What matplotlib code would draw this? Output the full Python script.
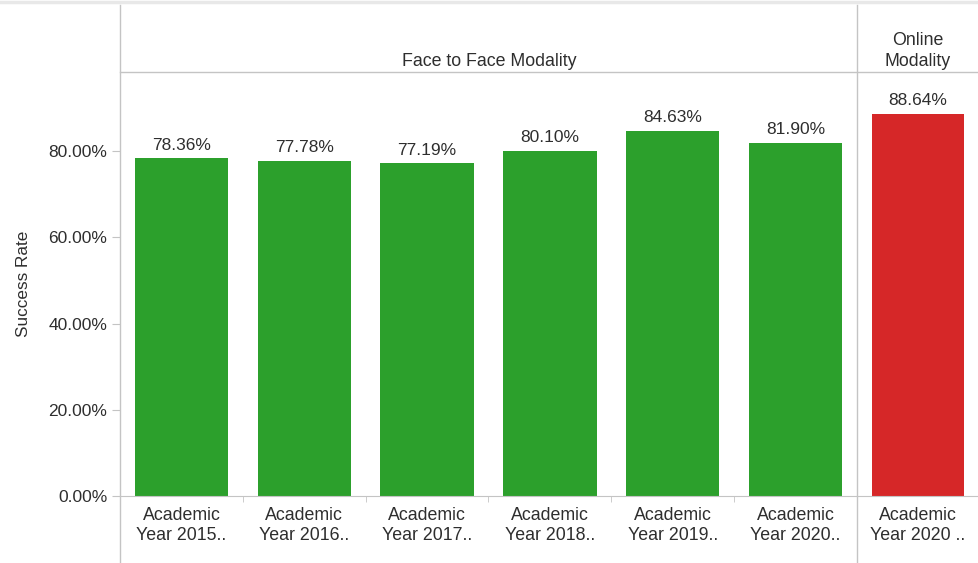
import matplotlib
matplotlib.use("Agg")
import matplotlib.pyplot as plt
from matplotlib.lines import Line2D

W, H = 979, 563

f2f_labels = ["Academic\nYear 2015..", "Academic\nYear 2016..", "Academic\nYear 2017..",
              "Academic\nYear 2018..", "Academic\nYear 2019..", "Academic\nYear 2020.."]
f2f_values = [78.36, 77.78, 77.19, 80.10, 84.63, 81.90]
online_labels = ["Academic\nYear 2020 .."]
online_values = [88.64]
y_ticks = [0, 20, 40, 60, 80]

GREEN = "#2ca02c"
RED = "#d62728"
LINE = "#c4c4c4"
TEXT = "#2e2e2e"

plt.rcParams['font.family'] = ['Liberation Sans', 'DejaVu Sans']
plt.rcParams['font.size'] = 12.5

fig = plt.figure(figsize=(W / 100, H / 100), dpi=100)


def rect(x0, y0, x1, y1):
    # pixel box (top-left origin) -> figure fraction
    return [x0 / W, 1 - y1 / H, (x1 - x0) / W, (y1 - y0) / H]


def fline(x0, y0, x1, y1, color=LINE, lw=1.0):
    fig.add_artist(Line2D([x0 / W, x1 / W], [1 - y0 / H, 1 - y1 / H],
                          color=color, lw=lw, transform=fig.transFigure))


TOP, BASE = 72, 496
YMAX = (BASE - TOP) / 4.3125

ax1 = fig.add_axes(rect(120, TOP, 857, BASE))
ax2 = fig.add_axes(rect(857, TOP, 979, BASE))

for ax, labels, values, color in [(ax1, f2f_labels, f2f_values, GREEN),
                                  (ax2, online_labels, online_values, RED)]:
    x = list(range(len(values)))
    bars = ax.bar(x, values, width=0.76, color=color)
    for b, v in zip(bars, values):
        ax.annotate(f"{v:.2f}%", (b.get_x() + b.get_width() / 2, v),
                    xytext=(0, 4), textcoords="offset points",
                    ha="center", va="bottom", color=TEXT, fontsize=12.5)
    ax.set_xlim(-0.5, len(values) - 0.5)
    ax.set_ylim(0, YMAX)
    for s in ["top", "right", "left"]:
        ax.spines[s].set_visible(False)
    ax.spines["bottom"].set_color(LINE)
    ax.set_xticks(x)
    ax.set_xticklabels(labels, color=TEXT, fontsize=12.8, linespacing=1.2)
    ax.tick_params(axis="x", which="major", length=0, pad=8)
    ax.set_xticks([i + 0.5 for i in x[:-1]], minor=True)
    ax.tick_params(axis="x", which="minor", length=4, color=LINE)
    ax.set_yticks([])

ax1.set_yticks(y_ticks)
ax1.set_yticklabels([f"{v:.2f}%" for v in y_ticks], color=TEXT)
ax1.tick_params(axis="y", length=6, color=LINE, pad=3)
ax1.set_ylabel("Success Rate", color=TEXT, fontsize=12.3, labelpad=13)

# frame lines
fline(0, 1.5, 979, 1.5, color="#e8e8e8", lw=2.5)
fline(120, 5, 120, 563)
fline(857, 5, 857, 563)
fline(120, TOP, 979, TOP)

fig.text(489 / W, 1 - 61 / H, "Face to Face Modality", ha="center", va="center",
         color=TEXT, fontsize=12.8)
fig.text(918 / W, 1 - 51 / H, "Online\nModality", ha="center", va="center",
         color=TEXT, fontsize=12.8, linespacing=1.35)

fig.savefig("out.png", dpi=100)
